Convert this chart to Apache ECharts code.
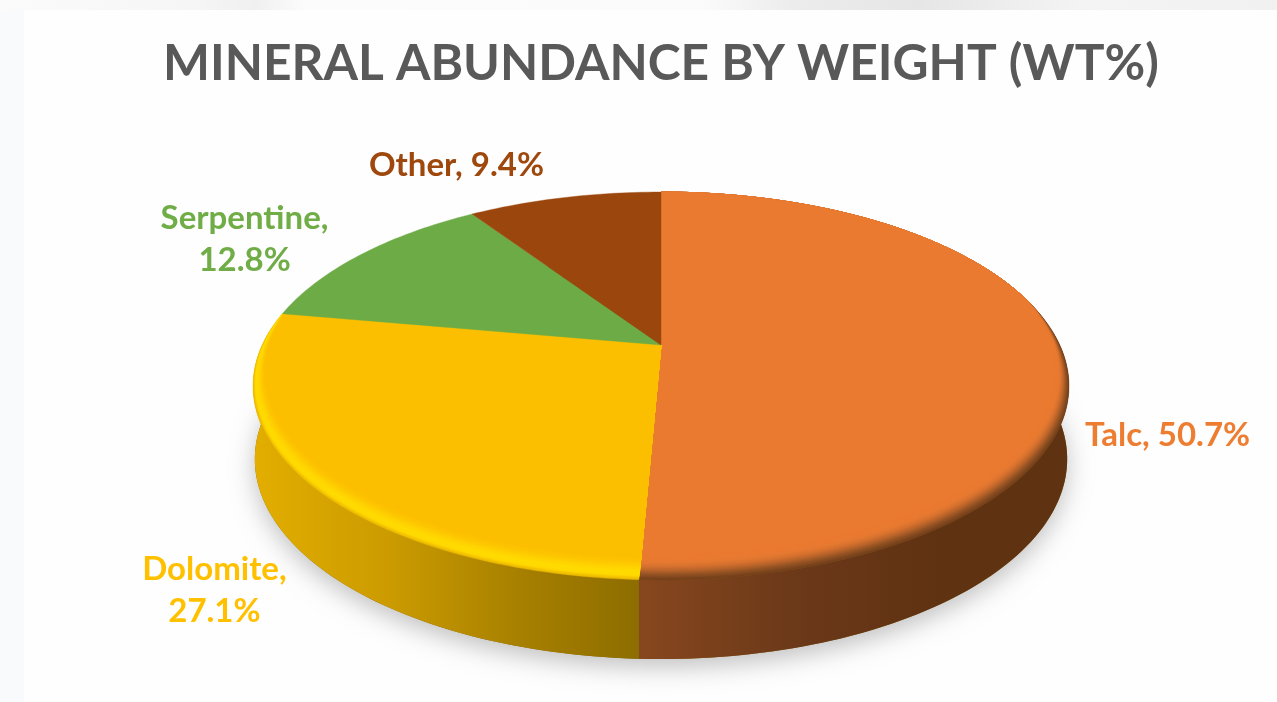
<!DOCTYPE html>
<html>
<head>
<meta charset="utf-8">
<style>html,body{margin:0;padding:0;background:#fff}#c{width:1277px;height:702px}</style>
<script src="https://cdn.jsdelivr.net/npm/echarts@6/dist/echarts.min.js"></script>
</head>
<body>
<div id="c"></div>
<script>
const titleText = 'MINERAL ABUNDANCE BY WEIGHT (WT%)';
const categories = ['Talc', 'Dolomite', 'Serpentine', 'Other'];
const shares = [50.7, 27.1, 12.8, 9.4];
const topColors = ['#ea7a30', '#fcbf00', '#6cab46', '#9a460c'];
const labelColors = ['#ed7d31', '#ffc000', '#70ad47', '#9e480e'];
const labelLines = [['Talc, 50.7%'], ['Dolomite,', '27.1%'], ['Serpentine,', '12.8%'], ['Other, 9.4%']];

// Layout: a perspective view of a disk (unit circle mapped through a homography)
const CX = 661, K = 0.2113;
const TOP = { a: 398.8, b: 112.4, y0: 345 };
const BOTTOM = { a: 397, b: 103, y0: 416.8 };
const LABEL_FONT = 33;
const labelNudge = { Talc: [106, 86], Dolomite: [-88, 112], Serpentine: [-117, -15], Other: [-108, -32] };
const rimRamps = {
  Talc: ['#74401b', '#8f5022', '#b4622a', '#d4702e', '#e57931', '#ea7a30', '#ea7a30'],
  Dolomite: ['#ecb800', '#ffd800', '#ffdb00', '#ffd400', '#fecb00', '#fdc300', '#fcbf00']
};
const rimDepth = { Talc: 0.085, Dolomite: 0.075 };
const sideStops = {
  Talc: [640, 1069, [[0, '#87471e'], [0.35, '#6c3919'], [0.7, '#5f3212'], [1, '#5f3212']]],
  Dolomite: [253, 640, [[0, '#e3ae00'], [0.35, '#cb9b00'], [0.7, '#a67f00'], [1, '#8d6d00']]]
};

const total = shares.reduce((s, v) => s + v, 0);
const starts = shares.map((_, i) => shares.slice(0, i).reduce((s, v) => s + v, 0));

function proj(disk, u, v) {
  const w = 1 + K * v;
  return [CX + disk.a * u / w, (disk.y0 - disk.b * v) / w];
}
function unit(share) {
  const t = share / total * Math.PI * 2;
  return [Math.sin(t), Math.cos(t)];
}
function arc(disk, from, to, radius, keep) {
  const n = Math.max(2, Math.ceil((to - from) * 3));
  const pts = [];
  for (let i = 0; i <= n; i++) {
    const [u, v] = unit(from + (to - from) * i / n);
    if (keep && !keep(v)) continue;
    const s = radius ? radius(v) : 1;
    pts.push(proj(disk, u * s, v * s));
  }
  return pts;
}
function rimShape(v) {
  const f = Math.min(1, Math.max(0, (0.25 - v) / 1.25));
  return Math.pow(f, 0.9);
}
const frontFacing = v => v < 0.1;

const option = {
  animation: false,
  backgroundColor: '#fefefe',
  title: {
    text: titleText, left: 158, top: 34,
    textStyle: { fontFamily: 'Lato', fontWeight: 'bold', fontSize: 49.7, color: '#595959' }
  },
  graphic: [
    { type: 'rect', silent: true, z: -1, shape: { x: 0, y: 0, width: 1277, height: 10 },
      style: { fill: new echarts.graphic.LinearGradient(0, 0, 1, 0, [
        { offset: 0, color: '#fbfbfb' }, { offset: 0.15, color: '#f6f6f6' }, { offset: 0.2, color: '#f0f0f0' },
        { offset: 0.24, color: '#fcfcfc' }, { offset: 0.55, color: '#fbfbfb' }, { offset: 0.62, color: '#ececec' },
        { offset: 0.72, color: '#e6e6e6' }, { offset: 0.85, color: '#f4f4f4' }, { offset: 1, color: '#f1f1f1' }
      ]) } },
    { type: 'rect', silent: true, z: -1, shape: { x: 0, y: 10, width: 24, height: 692 },
      style: { fill: '#f9fafc' } }
  ],
  series: [
    {
      type: 'custom', coordinateSystem: 'none', silent: true, z: 1,
      data: [[0, total]],
      renderItem(params, api) {
        const pts = arc(BOTTOM, api.value(0), api.value(1));
        return { type: 'polygon', shape: { points: pts },
          style: { fill: '#8a6a10', shadowBlur: 24, shadowColor: 'rgba(0,0,0,0.24)', shadowOffsetY: 8 } };
      }
    },
    {
      type: 'custom', coordinateSystem: 'none', silent: true, z: 2,
      data: categories.map((c, i) => [starts[i], starts[i] + shares[i]]),
      renderItem(params, api) {
        const spec = sideStops[categories[params.dataIndex]];
        if (!spec) return null;
        const from = api.value(0), to = api.value(1);
        const pts = arc(TOP, from, to, null, frontFacing)
          .concat(arc(BOTTOM, from, to, null, frontFacing).reverse());
        const fill = new echarts.graphic.LinearGradient(spec[0], 0, spec[1], 0,
          spec[2].map(s => ({ offset: s[0], color: s[1] })), true);
        return { type: 'polygon', shape: { points: pts }, style: { fill } };
      }
    },
    {
      type: 'custom', coordinateSystem: 'none', silent: true, z: 3,
      data: categories.map((c, i) => [starts[i], starts[i] + shares[i]]),
      renderItem(params, api) {
        const i = params.dataIndex;
        const ramp = rimRamps[categories[i]];
        const depth = rimDepth[categories[i]] || 0;
        const from = api.value(0), to = api.value(1);
        const apex = proj(TOP, 0, 0);
        const layers = ramp ? 18 : 0;
        const children = [];
        for (let l = 0; l <= layers; l++) {
          const t = layers ? l / layers : 1;
          const color = ramp ? echarts.color.lerp(t, ramp) : topColors[i];
          const pts = [apex].concat(arc(TOP, from, to, v => 1 - t * depth * rimShape(v)));
          children.push({ type: 'polygon', shape: { points: pts },
            style: { fill: color, stroke: color, lineWidth: 0.4 } });
        }
        return { type: 'group', children };
      }
    },
    {
      type: 'custom', coordinateSystem: 'none', silent: true, z: 4,
      data: categories.map((c, i) => [starts[i] + shares[i] / 2]),
      renderItem(params, api) {
        const i = params.dataIndex;
        const [u, v] = unit(api.value(0));
        const p = proj(TOP, u, v);
        const n = labelNudge[categories[i]];
        return { type: 'text', x: p[0] + n[0], y: p[1] + n[1],
          style: { text: labelLines[i].join('\n'), align: 'center', verticalAlign: 'middle',
            fill: labelColors[i], font: 'bold ' + LABEL_FONT + 'px Lato', lineHeight: 42 } };
      }
    }
  ]
};
echarts.init(document.getElementById('c'), null, { renderer: 'canvas' }).setOption(option);
</script>
</body>
</html>
